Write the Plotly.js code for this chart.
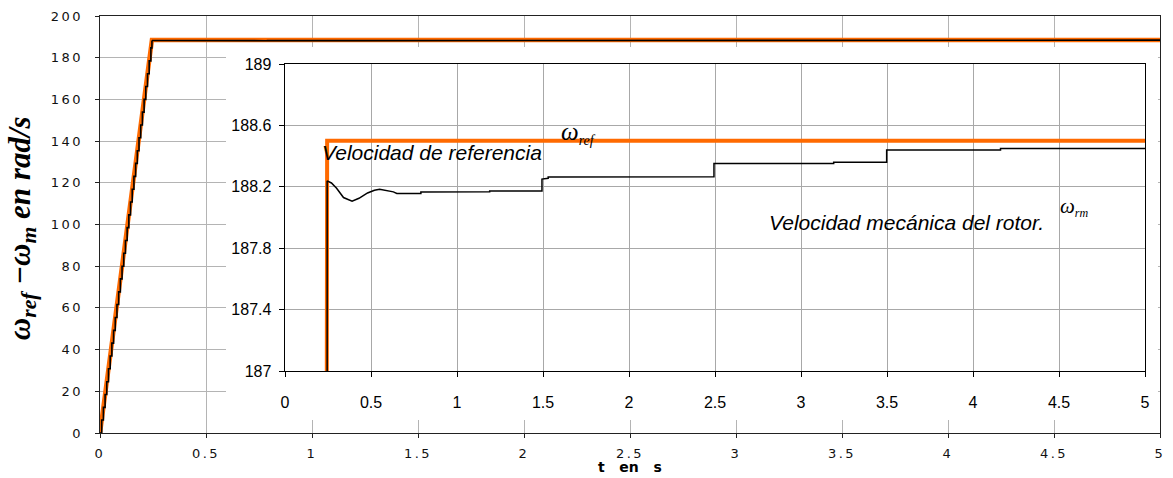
<!DOCTYPE html>
<html>
<head>
<meta charset="utf-8">
<script src="https://cdn.plot.ly/plotly-3.0.1.min.js"></script>
<style>
  html, body { margin: 0; padding: 0; background: #fff; }
  #chart { width: 1173px; height: 478px; }
  .subplot.xy .xtick text, .subplot.xy .ytick text { letter-spacing: 2.5px; }
</style>
</head>
<body>
<div id="chart"></div>
<script>
// ---- data ----
// reference speed (rad/s)
const tRef = [0, 0.245, 5];
const wRef = [0, 188.5, 188.5];

// mechanical rotor speed: stepped start-up ramp (rad/s)
const tRamp = [0, 0.008, 0.016, 0.024, 0.032, 0.040, 0.048, 0.056, 0.064, 0.072, 0.080,
  0.088, 0.096, 0.104, 0.112, 0.120, 0.128, 0.136, 0.144, 0.152, 0.160, 0.168, 0.176,
  0.184, 0.192, 0.200, 0.208, 0.216, 0.224, 0.232, 0.240, 0.245];
const wRamp = [0, 6.2, 12.3, 18.5, 24.6, 30.8, 36.9, 43.1, 49.2, 55.4, 61.6,
  67.7, 73.9, 80.0, 86.2, 92.3, 98.5, 104.6, 110.8, 116.9, 123.1, 129.3, 135.4,
  141.6, 147.7, 153.9, 160.0, 166.2, 172.3, 178.5, 184.7, 188.24];

// mechanical rotor speed after the ramp (rad/s)
const tSettle = [0.245, 0.27, 0.30, 0.34, 0.39, 0.43, 0.48, 0.52, 0.55, 0.60, 0.63, 0.65,
  0.79, 0.79, 1.19, 1.19, 1.494, 1.494, 1.53, 1.53, 2.494, 2.494, 3.19, 3.19, 3.498, 3.498,
  4.16, 4.16, 5];
const wSettle = [188.239, 188.225, 188.19, 188.13, 188.106, 188.125, 188.16, 188.178, 188.184,
  188.175, 188.167, 188.157, 188.157, 188.166, 188.168, 188.173, 188.173, 188.25, 188.255,
  188.264, 188.265, 188.352, 188.352, 188.36, 188.36, 188.439, 188.44, 188.45, 188.45];

// tick values
const mainXTicks = [0, 0.5, 1, 1.5, 2, 2.5, 3, 3.5, 4, 4.5, 5];
const mainYTicks = [0, 20, 40, 60, 80, 100, 120, 140, 160, 180, 200];
const insetYTicks = [187, 187.4, 187.8, 188.2, 188.6, 189];

// ---- styles ----
const ORANGE = '#FF6A00';
const BLACK = '#000000';

const traces = [
  // main chart
  { x: tRef, y: wRef, xaxis: 'x', yaxis: 'y', mode: 'lines',
    line: { color: ORANGE, width: 4.5 }, hoverinfo: 'skip' },
  { x: tRamp, y: wRamp, xaxis: 'x', yaxis: 'y', mode: 'lines',
    line: { color: BLACK, width: 1.6, shape: 'hv' }, hoverinfo: 'skip' },
  { x: tSettle, y: wSettle, xaxis: 'x', yaxis: 'y', mode: 'lines',
    line: { color: BLACK, width: 1.6 }, hoverinfo: 'skip' },
  // empty trace holding the white panel behind the inset
  { x: [], y: [], xaxis: 'x2', yaxis: 'y2', mode: 'lines', hoverinfo: 'skip' },
  // inset (zoom)
  { x: tRef, y: wRef, xaxis: 'x3', yaxis: 'y3', mode: 'lines',
    line: { color: ORANGE, width: 4 }, hoverinfo: 'skip' },
  { x: tRamp, y: wRamp, xaxis: 'x3', yaxis: 'y3', mode: 'lines',
    line: { color: BLACK, width: 1.5, shape: 'hv' }, hoverinfo: 'skip' },
  { x: tSettle, y: wSettle, xaxis: 'x3', yaxis: 'y3', mode: 'lines',
    line: { color: BLACK, width: 1.5 }, hoverinfo: 'skip' }
];

const mainTickFont = { family: 'DejaVu Sans, Arial, sans-serif', size: 13, color: '#111' };
const insetTickFont = { family: 'Liberation Sans, Arial, sans-serif', size: 16, color: '#000' };

const layout = {
  width: 1173, height: 478,
  margin: { l: 100, r: 13, t: 16, b: 45 },
  paper_bgcolor: '#fff', plot_bgcolor: '#fff',
  showlegend: false,
  xaxis: {
    domain: [0, 1], range: [0, 5], tickvals: mainXTicks, ticktext: mainXTicks.map(String),
    showgrid: true, gridcolor: '#b4b4b4', gridwidth: 1,
    showline: true, linecolor: '#222', linewidth: 1.3, mirror: true,
    ticks: 'outside', ticklen: 4, tickcolor: '#222', ticklabelstandoff: 4,
    tickfont: mainTickFont, zeroline: false, fixedrange: true
  },
  yaxis: {
    domain: [0, 1], range: [0, 200], tickvals: mainYTicks, ticktext: mainYTicks.map(String),
    showgrid: true, gridcolor: '#b4b4b4', gridwidth: 1,
    showline: true, linecolor: '#222', linewidth: 1.3, mirror: true,
    ticks: 'outside', ticklen: 4, tickcolor: '#222', ticklabelstandoff: 9,
    tickfont: mainTickFont, zeroline: false, fixedrange: true
  },
  xaxis2: { domain: [0.1189, 0.998], range: [0, 1], anchor: 'y2', visible: false, fixedrange: true },
  yaxis2: { domain: [0.0312, 0.9257], range: [0, 1], anchor: 'x2', visible: false, fixedrange: true },
  xaxis3: {
    domain: [0.17453, 0.98585], range: [0, 5], dtick: 0.5, tick0: 0, anchor: 'y3',
    showgrid: true, gridcolor: '#a8a8a8', gridwidth: 1,
    showline: true, linecolor: '#000', linewidth: 1.4, mirror: true,
    ticks: 'outside', ticklen: 5, tickcolor: '#000', ticklabelstandoff: 11,
    tickfont: insetTickFont, zeroline: false, fixedrange: true
  },
  yaxis3: {
    domain: [0.14868, 0.88489], range: [187, 189], tickvals: insetYTicks,
    ticktext: insetYTicks.map(String), anchor: 'x3',
    showgrid: true, gridcolor: '#a8a8a8', gridwidth: 1,
    showline: true, linecolor: '#000', linewidth: 1.4, mirror: true,
    ticks: 'outside', ticklen: 5, tickcolor: '#000', ticklabelstandoff: 4,
    tickfont: insetTickFont, zeroline: false, fixedrange: true
  },
  shapes: [
    // white panel behind the inset (covers main gridlines)
    { type: 'rect', xref: 'x2', yref: 'y2', x0: 0, x1: 1, y0: 0, y1: 1,
      fillcolor: '#fff', line: { width: 0 }, layer: 'below' }
  ],
  annotations: [
    { xref: 'paper', yref: 'paper', x: -0.074, y: 0.49, xanchor: 'center', yanchor: 'middle',
      textangle: -90, showarrow: false,
      text: '<b><i>ω<sub>ref</sub> −ω<sub>m</sub> en rad/s</i></b>',
      font: { family: 'Liberation Serif, Times New Roman, serif', size: 31, color: '#000' } },
    { xref: 'paper', yref: 'paper', x: 0.5, y: -0.0815, xanchor: 'center', yanchor: 'middle',
      showarrow: false, borderpad: 0, text: '<b>t&nbsp;&nbsp;&nbsp;en&nbsp;&nbsp;&nbsp;s</b>',
      font: { family: 'DejaVu Sans, Arial, sans-serif', size: 14, color: '#000' } },
    { xref: 'x3', yref: 'y3', x: 0.2035, y: 188.426, xanchor: 'left', yanchor: 'middle',
      showarrow: false, text: '<i>Velocidad de referencia</i>',
      font: { family: 'Liberation Sans, Arial, sans-serif', size: 21, color: '#000' } },
    { xref: 'x3', yref: 'y3', x: 1.593, y: 188.55, xanchor: 'left', yanchor: 'middle',
      showarrow: false, text: '<i>ω<sub><span style="font-size:14px">ref</span></sub></i>',
      font: { family: 'Liberation Serif, Times New Roman, serif', size: 25, color: '#000' } },
    { xref: 'x3', yref: 'y3', x: 2.802, y: 187.969, xanchor: 'left', yanchor: 'middle',
      showarrow: false, text: '<i>Velocidad mecánica del rotor.</i>',
      font: { family: 'Liberation Sans, Arial, sans-serif', size: 21, color: '#000' } },
    { xref: 'x3', yref: 'y3', x: 4.494, y: 188.07, xanchor: 'left', yanchor: 'middle',
      showarrow: false, text: '<i>ω<sub><span style="font-size:12px">rm</span></sub></i>',
      font: { family: 'Liberation Serif, Times New Roman, serif', size: 21, color: '#000' } }
  ]
};

Plotly.newPlot('chart', traces, layout, { displayModeBar: false, staticPlot: true });
</script>
</body>
</html>
